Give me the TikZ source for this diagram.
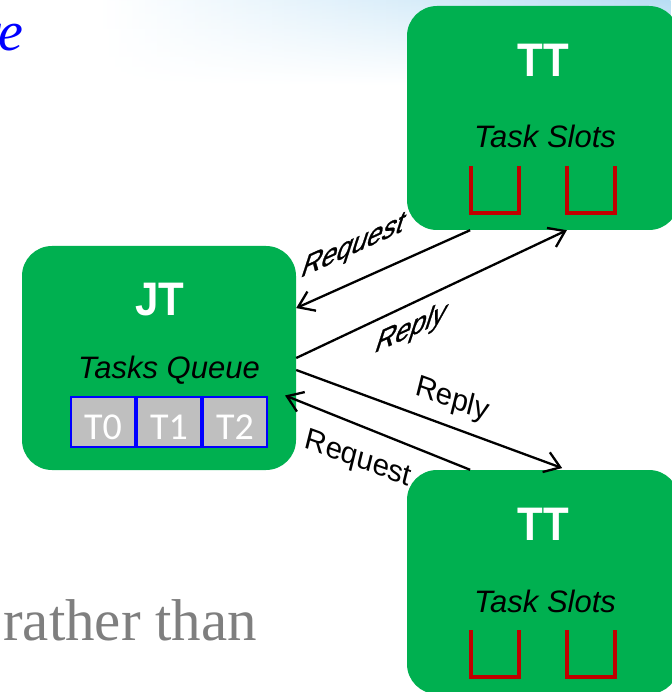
\documentclass[tikz,border=0pt]{standalone}
\usepackage{fontspec}
\setmainfont{Liberation Serif}
\setsansfont{Liberation Sans}
\newfontfamily\cellfont{Carlito}
\newfontfamily\slantfont[FakeBold=1]{Liberation Sans}
\usetikzlibrary{positioning,calc,arrows.meta,fadings}
\definecolor{boxgreen}{RGB}{0,176,80}
\definecolor{slotred}{RGB}{192,0,0}
\definecolor{cellgray}{RGB}{191,191,191}
\definecolor{textgray}{RGB}{127,127,127}
\definecolor{skyblue}{RGB}{160,210,240}
\tikzfading[name=skyfade, top color=transparent!25, bottom color=transparent!100]
\tikzstyle{msgarrow} = [-{Straight Barb[length=15pt,width=21pt]}, line width=2.3pt]
\tikzstyle{tracker} = [rounded corners=30pt, fill=boxgreen, minimum width=274pt, minimum height=224pt, inner sep=0pt]
\tikzstyle{boxtitle} = [text=white, inner sep=0pt, yscale=1.12, font={\sffamily\bfseries\fontsize{42}{48}\selectfont}]
\tikzstyle{boxcaption} = [inner sep=0pt, font={\sffamily\itshape\fontsize{31}{37}\selectfont}]
\tikzstyle{qcell} = [draw=blue, line width=2pt, fill=cellgray, text=white, minimum width=64pt, minimum height=50pt, inner sep=0pt, text height=34pt, text depth=0pt, font={\cellfont\fontsize{38}{44}\selectfont}]
\tikzstyle{slotline} = [draw=slotred, line width=4pt]
\tikzstyle{msglabel} = [inner sep=0pt, font={\sffamily\fontsize{30}{36}\selectfont}]
\tikzstyle{uplabel} = [msglabel, font={\slantfont\fontsize{30}{36}\selectfont}, cm={0.910,0.415,0.355,1.094,(0,0)}]
\tikzstyle{downlabel} = [msglabel, cm={0.940,-0.342,0.242,0.970,(0,0)}]

\begin{document}
\begin{tikzpicture}[x=1pt, y=-1pt]
    \useasboundingbox (0,0) rectangle (671,692);
    % Slide background
    \shade[left color=white, right color=skyblue, path fading=skyfade] (100,0) rectangle (671,85);
    \node[anchor=base east, inner sep=0pt, text=blue, font={\itshape\fontsize{56}{64}\selectfont}] (title-tail) at (24,51) {re};
    \node[anchor=base west, inner sep=0pt, text=textgray, font={\fontsize{59}{68}\selectfont}] (body-text) at (3,640) {rather than};
    % Job tracker
    \node[tracker] (jt) at (159,358) {};
    \node[boxtitle] (jt-title) at ($(jt.center)+(1,-58)$) {JT};
    \node[boxcaption, anchor=base] (jt-caption) at ($(jt.center)+(10,20)$) {Tasks Queue};
    \node[qcell] (q0) at ($(jt.center)+(-56,64)$) {T0};
    \node[qcell, right=0pt of q0] (q1) {T1};
    \node[qcell, right=0pt of q1] (q2) {T2};
    % Task trackers
    \foreach \trk/\ty in {tt1/118, tt2/582} {
        \node[tracker, minimum width=272pt] (\trk) at (543,\ty) {};
        \node[boxtitle] (\trk-title) at ($(\trk.center)+(0,-58)$) {TT};
        \node[boxcaption, anchor=base] (\trk-caption) at ($(\trk.center)+(2,30)$) {Task Slots};
        \foreach \dx in {-72,24}
            \draw[slotline] ($(\trk.center)+(\dx,48)$) -- ++(0,47) -- ++(48,0) -- ++(0,-47);
    }
    % Arrows
    \draw[msgarrow] (tt1.237) -- (jt.20);
    \draw[msgarrow] (jt.east) -- (tt1.282);
    \draw[msgarrow, shorten >=5pt] (jt.-5) -- (tt2.78);
    \draw[msgarrow, shorten >=-12pt] (tt2.123) -- (jt.-17);
    % Labels
    \node[uplabel] (req-top) at (353,247) {Request};
    \node[uplabel] (rep-top) at (411,329) {Reply};
    \node[downlabel] (rep-bot) at (452,400) {Reply};
    \node[downlabel] (req-bot) at (358,460) {Request};
\end{tikzpicture}
\end{document}
